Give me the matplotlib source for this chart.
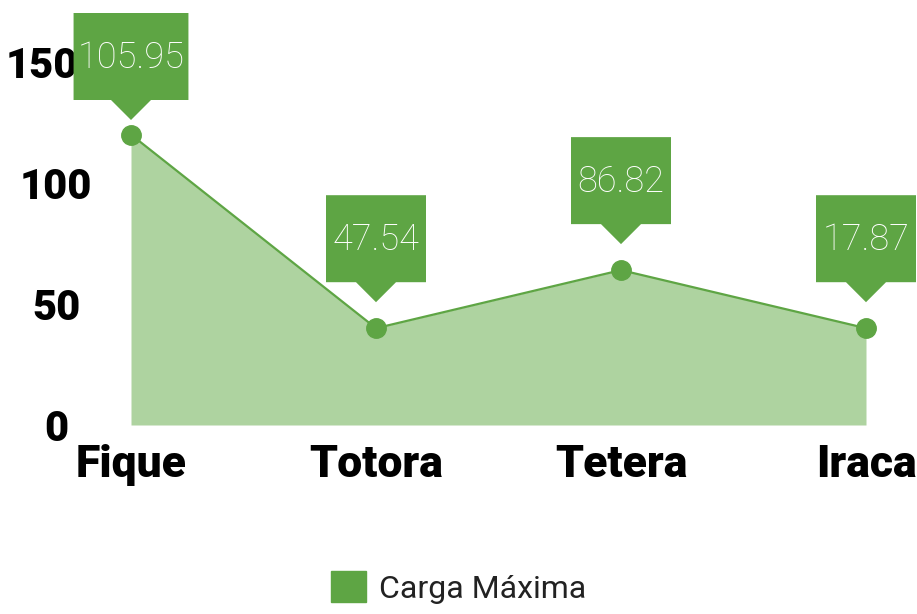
import matplotlib.pyplot as plt
from matplotlib.patches import Polygon, Patch
from matplotlib.transforms import IdentityTransform, ScaledTranslation

# Data (heights as drawn in the chart, labels as printed on the boxes)
categories = ['Fique', 'Totora', 'Tetera', 'Iraca']
plotted = [120, 40, 64, 40]
value_labels = ['105.95', '47.54', '86.82', '17.87']
y_ticks = [0, 50, 100, 150]
series_name = 'Carga Máxima'

green = '#5ea544'
light_green = '#aed3a0'
light = ['Roboto', 'DejaVu Sans']
heavy = ['Roboto', 'DejaVu Sans']

W, H = 917, 614
fig = plt.figure(figsize=(W / 100, H / 100), dpi=100)
ax = fig.add_axes([131 / W, (H - 425) / H, (866 - 131) / W, (425 - 62) / H])

x = list(range(len(categories)))
ax.fill_between(x, plotted, color=light_green, linewidth=0)
ax.plot(x, plotted, color=green, lw=1.6, marker='o', ms=14, clip_on=False, zorder=3)
ax.set_xlim(0, len(categories) - 1)
ax.set_ylim(0, 150)

for s in ax.spines.values():
    s.set_visible(False)

ax.set_yticks(y_ticks)
ylabels = ax.set_yticklabels([str(t) for t in y_ticks], family=heavy, weight='black',
                             fontsize=30, ha='center')
ax.tick_params(axis='y', length=0, pad=54)
# top tick label sits left of the first call-out box
ylabels[-1].set_transform(ylabels[-1].get_transform()
                          + ScaledTranslation(-14 / 100, 0, fig.dpi_scale_trans))
ax.set_xticks(x)
ax.set_xticklabels(categories, family=heavy, weight='black', fontsize=32)
ax.tick_params(axis='x', length=0, pad=14)

# value call-out boxes, drawn in pixel coordinates
renderer = fig.canvas.get_renderer()
box_h, tri_h, tri_w = 87, 20, 20
for xi, yi, lab in zip(x, plotted, value_labels):
    px, py = ax.transData.transform((xi, yi))
    t = fig.text(0, 0, lab, family=light, weight='light', fontsize=26, color='white',
                 ha='center', va='center', transform=IdentityTransform(), zorder=6)
    tw = t.get_window_extent(renderer).width
    bw = max(100, tw + 8)
    top_from_top = max(13, (H - py) - 46 - box_h)
    top = H - top_from_top
    bottom = top - box_h
    verts = [(px - bw / 2, top), (px + bw / 2, top), (px + bw / 2, bottom),
             (px + tri_w, bottom), (px, bottom - tri_h), (px - tri_w, bottom),
             (px - bw / 2, bottom)]
    fig.add_artist(Polygon(verts, closed=True, color=green, lw=0,
                           transform=IdentityTransform(), zorder=5))
    t.set_position((px, (top + bottom) / 2 - 1))

leg = fig.legend(handles=[Patch(color=green, label=series_name)], loc='lower center',
                 bbox_to_anchor=(0.5, -0.03), frameon=False,
                 prop={'family': light, 'size': 23}, handlelength=1.1,
                 handleheight=1.1, handletextpad=0.4)
for txt in leg.get_texts():
    txt.set_color('#222222')

plt.savefig('out.png', dpi=100)
